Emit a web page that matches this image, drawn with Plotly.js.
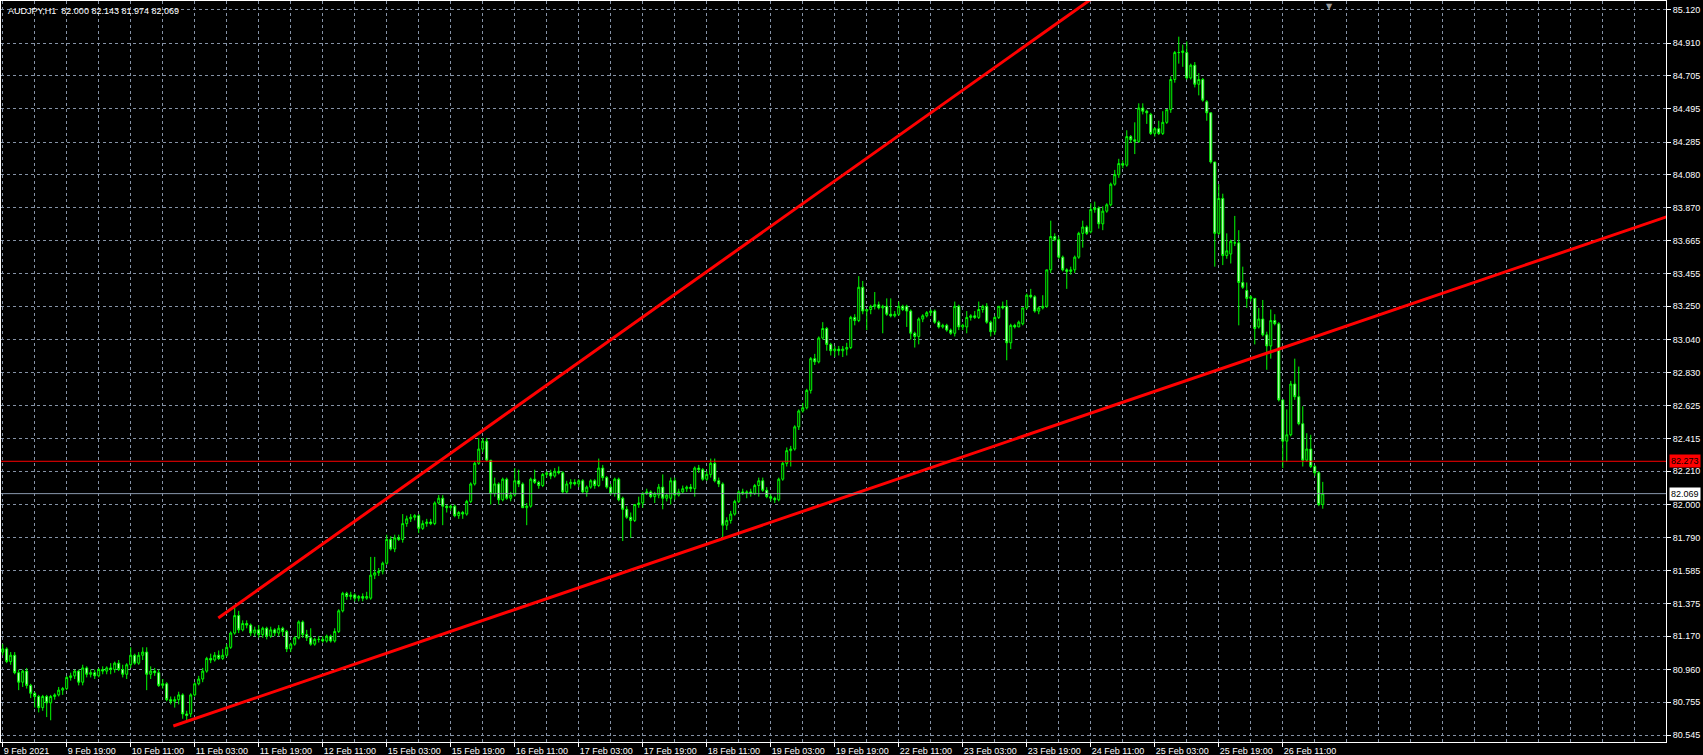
<!DOCTYPE html>
<html>
<head>
<meta charset="utf-8">
<script src="https://cdn.plot.ly/plotly-3.0.1.min.js"></script>
<style>
  html, body { margin: 0; padding: 0; background: #000; }
  #chart { width: 1703px; height: 755px; }
</style>
</head>
<body>
<div id="chart"></div>
<script>
// ---- data (AUDJPY, H1) ----
const symbolTitle = "AUDJPY,H1  82.000 82.143 81.974 82.069";

const barOpen = [
81.07,81.09,81.01,81.05,80.94,80.88,80.95,80.86,80.81,80.79,
80.72,80.79,80.75,80.79,80.80,80.83,80.84,80.91,80.92,80.95,
80.88,80.97,80.93,80.94,80.92,80.96,80.95,80.97,80.96,81.00,
80.96,80.93,80.99,81.05,81.00,81.05,81.07,80.93,80.95,80.94,
80.86,80.87,80.77,80.76,80.77,80.80,80.68,80.68,80.80,80.87,
80.90,80.95,81.03,81.02,81.05,81.03,81.05,81.10,81.19,81.30,
81.21,81.25,81.24,81.19,81.21,81.18,81.22,81.17,81.21,81.19,
81.22,81.20,81.09,81.12,81.16,81.26,81.18,81.16,81.12,81.15,
81.15,81.14,81.17,81.14,81.20,81.33,81.44,81.42,81.43,81.41,
81.42,81.41,81.41,81.555,81.57,81.58,81.63,81.78,81.72,81.79,
81.78,81.88,81.91,81.92,81.93,81.85,81.88,81.89,81.88,82.01,
82.04,81.99,81.98,81.99,81.93,81.95,81.94,82.02,82.13,82.26,
82.35,82.40,82.28,82.07,82.13,82.03,82.16,82.04,82.06,82.15,
82.13,81.98,81.99,82.16,82.14,82.12,82.19,82.20,82.18,82.21,
82.20,82.08,82.13,82.14,82.13,82.15,82.08,82.11,82.15,82.12,
82.23,82.17,82.11,82.07,82.16,82.04,81.97,81.92,81.90,82.00,
82.01,82.07,82.08,82.05,82.06,82.11,82.04,82.04,82.15,82.06,
82.08,82.10,82.11,82.10,82.23,82.22,82.16,82.19,82.26,82.15,
82.13,81.87,81.90,81.94,82.02,82.08,82.07,82.08,82.07,82.12,
82.15,82.09,82.05,82.04,82.03,82.16,82.26,82.34,82.35,82.49,
82.59,82.61,82.72,82.92,82.90,83.05,83.11,83.01,82.97,82.98,
82.97,82.98,82.99,83.18,83.16,83.37,83.22,83.23,83.25,83.26,
83.24,83.25,83.20,83.19,83.20,83.25,83.25,83.22,83.08,83.06,
83.17,83.19,83.21,83.22,83.15,83.12,83.13,83.10,83.08,83.25,
83.12,83.12,83.18,83.19,83.18,83.23,83.25,83.15,83.09,83.18,
83.25,83.25,83.02,83.13,83.12,83.14,83.24,83.32,83.31,83.22,
83.24,83.25,83.48,83.69,83.67,83.56,83.48,83.47,83.48,83.56,
83.71,83.75,83.72,83.86,83.87,83.77,83.85,83.89,84.02,84.08,
84.15,84.14,84.32,84.30,84.29,84.50,84.48,84.46,84.34,84.37,
84.34,84.41,84.49,84.68,84.85,84.85,84.85,84.69,84.77,84.65,
84.68,84.54,84.47,84.16,83.71,83.93,83.57,83.58,83.65,83.65,
83.40,83.35,83.30,83.30,83.12,83.17,83.07,83.00,83.16,83.14,
82.66,82.40,82.44,82.76,82.68,82.51,82.28,82.35,82.24,82.20,
82.000];

const barHigh = [
81.12,81.10,81.07,81.07,80.96,80.96,80.97,80.87,80.82,80.80,
80.80,80.80,80.80,80.81,80.85,80.85,80.92,80.94,80.96,80.96,
80.99,80.98,80.96,80.96,80.97,80.98,80.98,81.00,81.01,81.02,
80.99,81.00,81.10,81.06,81.07,81.10,81.10,80.98,80.97,80.96,
80.90,80.88,80.79,80.79,80.82,80.81,80.70,80.81,80.88,80.92,
80.97,81.04,81.06,81.07,81.08,81.09,81.12,81.20,81.36,81.33,
81.27,81.27,81.25,81.23,81.24,81.23,81.23,81.23,81.22,81.24,
81.23,81.21,81.13,81.17,81.27,81.27,81.21,81.22,81.16,81.17,
81.17,81.18,81.18,81.22,81.34,81.45,81.45,81.45,81.44,81.43,
81.44,81.45,81.67,81.67,81.60,81.64,81.81,81.80,81.81,81.81,
81.94,81.93,81.94,81.94,81.94,81.90,81.91,81.91,82.02,82.06,
82.06,82.00,82.00,82.00,81.96,81.96,82.03,82.14,82.27,82.42,
82.42,82.42,82.28,82.17,82.14,82.17,82.17,82.08,82.23,82.22,
82.14,82.01,82.17,82.22,82.15,82.20,82.21,82.22,82.23,82.24,
82.21,82.15,82.16,82.16,82.16,82.16,82.12,82.16,82.16,82.29,
82.25,82.18,82.13,82.17,82.17,82.05,81.99,81.95,82.00,82.05,
82.08,82.10,82.09,82.08,82.13,82.19,82.07,82.17,82.17,82.10,
82.12,82.12,82.13,82.24,82.25,82.23,82.21,82.29,82.29,82.17,
82.14,81.92,81.96,82.03,82.09,82.10,82.09,82.10,82.13,82.17,
82.17,82.11,82.07,82.05,82.17,82.27,82.36,82.37,82.50,82.60,
82.64,82.73,82.93,82.95,83.06,83.15,83.12,83.02,83.00,83.00,
83.00,83.02,83.19,83.20,83.44,83.41,83.23,83.26,83.34,83.28,
83.26,83.30,83.30,83.22,83.28,83.26,83.26,83.23,83.09,83.18,
83.20,83.22,83.23,83.23,83.16,83.14,83.14,83.11,83.28,83.26,
83.14,83.22,83.20,83.22,83.28,83.26,83.27,83.16,83.19,83.25,
83.28,83.29,83.14,83.14,83.16,83.24,83.33,83.36,83.32,83.25,
83.32,83.48,83.79,83.71,83.69,83.57,83.49,83.50,83.57,83.72,
83.79,83.76,83.90,83.91,83.88,83.88,83.90,84.03,84.11,84.18,
84.17,84.36,84.33,84.41,84.53,84.53,84.49,84.47,84.38,84.42,
84.48,84.49,84.70,84.86,84.95,84.90,84.92,84.78,84.79,84.72,
84.69,84.55,84.47,84.16,84.02,83.96,83.71,83.67,83.82,83.73,
83.50,83.40,83.32,83.30,83.24,83.29,83.09,83.23,83.20,83.15,
82.66,82.60,82.78,82.92,82.87,82.62,82.45,82.44,82.25,82.21,
82.143];

const barLow = [
81.05,81.00,80.99,80.93,80.83,80.85,80.84,80.78,80.72,80.69,
80.70,80.66,80.64,80.77,80.79,80.80,80.83,80.89,80.90,80.86,
80.86,80.91,80.91,80.90,80.91,80.93,80.93,80.93,80.94,80.95,
80.91,80.90,80.97,80.99,80.99,81.02,80.83,80.90,80.92,80.85,
80.84,80.76,80.74,80.72,80.74,80.65,80.63,80.66,80.79,80.86,
80.88,80.94,81.00,81.01,81.02,81.02,81.04,81.09,81.18,81.19,
81.20,81.22,81.17,81.17,81.16,81.16,81.15,81.16,81.17,81.17,
81.17,81.07,81.07,81.11,81.15,81.16,81.14,81.11,81.11,81.13,
81.13,81.13,81.13,81.13,81.19,81.32,81.40,81.40,81.39,81.39,
81.39,81.40,81.40,81.53,81.55,81.56,81.62,81.71,81.70,81.77,
81.76,81.86,81.89,81.90,81.82,81.84,81.86,81.87,81.87,82.00,
81.87,81.95,81.96,81.92,81.91,81.91,81.93,82.01,82.12,82.25,
82.33,82.27,82.00,82.05,82.00,82.02,82.03,82.02,82.05,82.11,
81.98,81.87,81.98,82.13,82.10,82.11,82.17,82.16,82.17,82.19,
82.07,82.07,82.10,82.12,82.11,82.07,82.05,82.10,82.10,82.11,
82.15,82.10,82.06,82.05,82.02,81.77,81.91,81.79,81.89,81.98,
81.98,82.06,82.04,82.01,82.04,81.97,82.02,82.00,82.03,82.05,
82.07,82.08,82.08,82.05,82.20,82.15,82.15,82.17,82.14,82.11,
81.79,81.84,81.88,81.93,82.01,82.06,82.04,82.05,82.06,82.05,
82.08,82.04,82.02,82.01,82.02,82.15,82.24,82.24,82.34,82.47,
82.58,82.60,82.70,82.88,82.89,83.04,82.97,82.94,82.93,82.94,
82.93,82.94,82.98,83.13,83.15,83.20,83.10,83.20,83.23,83.23,
83.08,83.19,83.18,83.18,83.19,83.22,83.12,83.04,82.99,83.01,
83.15,83.18,83.19,83.14,83.11,83.11,83.09,83.07,83.06,83.10,
83.10,83.08,83.16,83.17,83.17,83.21,83.14,83.06,83.07,83.17,
83.23,82.91,82.98,83.11,83.12,83.13,83.23,83.30,83.21,83.20,
83.23,83.24,83.46,83.66,83.55,83.47,83.36,83.45,83.46,83.55,
83.62,83.70,83.71,83.84,83.74,83.73,83.84,83.88,84.01,84.06,
84.12,84.13,84.28,84.21,84.28,84.46,84.40,84.33,84.32,84.33,
84.33,84.40,84.47,84.66,84.78,84.76,84.68,84.68,84.63,84.58,
84.54,84.42,84.15,83.50,83.70,83.51,83.55,83.52,83.63,83.13,
83.36,83.24,83.28,83.01,83.11,83.06,82.85,82.92,83.13,82.65,
82.23,82.27,82.43,82.66,82.50,82.24,82.27,82.23,82.18,81.99,
81.974];

const barClose = [
81.09,81.01,81.05,80.94,80.88,80.95,80.86,80.81,80.79,80.72,
80.79,80.75,80.79,80.80,80.83,80.84,80.91,80.92,80.95,80.88,
80.97,80.93,80.94,80.92,80.96,80.95,80.97,80.96,81.00,80.96,
80.93,80.99,81.05,81.00,81.05,81.07,80.93,80.95,80.94,80.86,
80.87,80.77,80.76,80.77,80.80,80.68,80.67,80.80,80.87,80.90,
80.95,81.03,81.02,81.05,81.03,81.05,81.10,81.19,81.30,81.21,
81.25,81.24,81.19,81.21,81.18,81.22,81.17,81.21,81.19,81.22,
81.20,81.09,81.12,81.16,81.26,81.18,81.16,81.12,81.15,81.15,
81.14,81.17,81.14,81.20,81.33,81.44,81.42,81.43,81.41,81.42,
81.41,81.42,81.555,81.57,81.58,81.63,81.78,81.72,81.79,81.78,
81.88,81.91,81.92,81.93,81.85,81.88,81.89,81.88,82.01,82.04,
81.99,81.98,81.99,81.93,81.95,81.94,82.02,82.13,82.26,82.35,
82.40,82.28,82.07,82.13,82.03,82.16,82.04,82.06,82.15,82.13,
81.98,81.99,82.16,82.14,82.12,82.19,82.20,82.18,82.21,82.20,
82.08,82.13,82.14,82.13,82.15,82.08,82.11,82.15,82.12,82.23,
82.17,82.11,82.07,82.16,82.03,81.97,81.92,81.90,82.00,82.01,
82.07,82.08,82.05,82.07,82.11,82.04,82.06,82.15,82.06,82.08,
82.10,82.11,82.10,82.23,82.22,82.16,82.19,82.26,82.15,82.13,
81.87,81.90,81.94,82.02,82.08,82.07,82.08,82.07,82.12,82.15,
82.09,82.05,82.04,82.03,82.16,82.26,82.34,82.35,82.49,82.59,
82.61,82.72,82.92,82.90,83.05,83.11,83.01,82.97,82.98,82.97,
82.98,82.99,83.18,83.16,83.37,83.22,83.23,83.25,83.26,83.24,
83.25,83.20,83.19,83.20,83.25,83.23,83.22,83.08,83.06,83.17,
83.19,83.21,83.22,83.15,83.12,83.13,83.10,83.08,83.25,83.12,
83.13,83.18,83.19,83.18,83.23,83.25,83.15,83.09,83.18,83.25,
83.24,83.02,83.13,83.12,83.15,83.24,83.32,83.31,83.22,83.24,
83.25,83.48,83.69,83.67,83.56,83.48,83.47,83.48,83.56,83.71,
83.75,83.71,83.86,83.87,83.77,83.85,83.89,84.02,84.08,84.15,
84.14,84.32,84.30,84.29,84.50,84.48,84.47,84.34,84.37,84.34,
84.41,84.49,84.68,84.85,84.85,84.86,84.69,84.77,84.65,84.68,
84.55,84.47,84.16,83.71,83.93,83.57,83.60,83.66,83.65,83.40,
83.37,83.30,83.31,83.11,83.17,83.07,83.00,83.16,83.14,82.66,
82.40,82.44,82.76,82.68,82.51,82.28,82.35,82.24,82.20,82.00,
82.069];

// time-axis labels, one every 16 hourly bars
const timeLabels = ["9 Feb 2021","9 Feb 19:00","10 Feb 11:00","11 Feb 03:00","11 Feb 19:00",
  "12 Feb 11:00","15 Feb 03:00","15 Feb 19:00","16 Feb 11:00","17 Feb 03:00","17 Feb 19:00",
  "18 Feb 11:00","19 Feb 03:00","19 Feb 19:00","22 Feb 11:00","23 Feb 03:00","23 Feb 19:00",
  "24 Feb 11:00","25 Feb 03:00","25 Feb 19:00","26 Feb 11:00"];

// price-axis labels
const priceTicks = [80.545,80.755,80.960,81.170,81.375,81.585,81.790,82.000,82.210,82.415,
  82.625,82.830,83.040,83.250,83.455,83.665,83.870,84.080,84.285,84.495,84.705,84.910,85.120];

// trend lines (bar index, price) anchor points
const upperTrendBars = [53.9, 280];
const upperTrendPrices = [81.285, 85.328];
const lowerTrendBars = [42.65, 420];
const lowerTrendPrices = [80.604, 83.849];

// horizontal levels
const redLevel = 82.273;
const bidLevel = 82.069;

// chart-shift marker (bar position)
const shiftMarkerBar = 331.8;

// ---- chart ----
const barIndex = barOpen.map((_, i) => i);
const labelBars = timeLabels.map((_, k) => k * 16);

const gridCol = '#8592a6';
const fontFam = '"Liberation Sans", Arial, sans-serif';

const traces = [
  {
    type: 'candlestick',
    x: barIndex, open: barOpen, high: barHigh, low: barLow, close: barClose,
    increasing: { line: { color: '#00ff00', width: 1 }, fillcolor: '#000000' },
    decreasing: { line: { color: '#00ff00', width: 1 }, fillcolor: '#f2fff2' },
    whiskerwidth: 0,
    hoverinfo: 'skip',
    showlegend: false
  },
  {
    type: 'scatter', mode: 'lines', x: upperTrendBars, y: upperTrendPrices,
    line: { color: '#ff0000', width: 3 }, hoverinfo: 'skip', showlegend: false
  },
  {
    type: 'scatter', mode: 'lines', x: lowerTrendBars, y: lowerTrendPrices,
    line: { color: '#ff0000', width: 3 }, hoverinfo: 'skip', showlegend: false
  }
];

const layout = {
  width: 1703, height: 755,
  paper_bgcolor: '#000000', plot_bgcolor: '#000000',
  margin: { l: 1, r: 37, t: 1, b: 13 },
  showlegend: false,
  boxgap: 0.3,
  xaxis: {
    type: 'linear',
    range: [-0.425, 415.8],
    autorange: false,
    rangeslider: { visible: false },
    tickmode: 'array', tickvals: labelBars, ticktext: timeLabels,
    ticks: 'outside', ticklen: 4, tickcolor: '#ffffff', tickwidth: 1,
    ticklabelposition: 'outside right',
    tickfont: { family: fontFam, size: 9, color: '#ffffff' },
    showgrid: true, gridcolor: gridCol, gridwidth: 1, griddash: '3px,3px',
    minor: { tick0: 0, dtick: 8, showgrid: true, gridcolor: gridCol, gridwidth: 1, griddash: '3px,3px', ticks: '' },
    showline: true, linecolor: '#ffffff', linewidth: 1, mirror: true,
    zeroline: false, automargin: false, fixedrange: true
  },
  yaxis: {
    side: 'right',
    range: [80.503, 85.175],
    autorange: false,
    tickmode: 'array', tickvals: priceTicks, ticktext: priceTicks.map(v => v.toFixed(3)),
    ticks: 'outside', ticklen: 4, tickcolor: '#ffffff', tickwidth: 1,
    tickfont: { family: fontFam, size: 9, color: '#ffffff' },
    showgrid: true, gridcolor: gridCol, gridwidth: 1, griddash: '3px,3px',
    showline: true, linecolor: '#ffffff', linewidth: 1, mirror: true,
    zeroline: false, automargin: false, fixedrange: true
  },
  shapes: [
    { type: 'line', xref: 'paper', x0: 0, x1: 1, yref: 'y', y0: bidLevel, y1: bidLevel,
      line: { color: '#8a98ad', width: 1 }, layer: 'above' },
    { type: 'line', xref: 'paper', x0: 0, x1: 1, yref: 'y', y0: redLevel, y1: redLevel,
      line: { color: '#ff0000', width: 1 }, layer: 'above' }
  ],
  annotations: [
    { text: symbolTitle, xref: 'paper', yref: 'paper', x: 0, y: 1, xanchor: 'left', yanchor: 'top',
      xshift: 5, yshift: -3, showarrow: false,
      font: { family: fontFam, size: 9, color: '#ffffff' } },
    { text: redLevel.toFixed(3), xref: 'paper', yref: 'y', x: 1, y: redLevel, xanchor: 'left', yanchor: 'middle',
      xshift: 3, showarrow: false, bgcolor: '#ff0000', borderpad: 1,
      font: { family: fontFam, size: 9, color: '#000000' } },
    { text: bidLevel.toFixed(3), xref: 'paper', yref: 'y', x: 1, y: bidLevel, xanchor: 'left', yanchor: 'middle',
      xshift: 3, showarrow: false, bgcolor: '#ffffff', borderpad: 1,
      font: { family: fontFam, size: 9, color: '#000000' } },
    { text: '▼', xref: 'x', yref: 'paper', x: shiftMarkerBar, y: 1, xanchor: 'center', yanchor: 'top',
      yshift: 1, showarrow: false,
      font: { family: '"DejaVu Sans", sans-serif', size: 8, color: '#9a9a9a' } }
  ]
};

Plotly.newPlot('chart', traces, layout, { staticPlot: true, displayModeBar: false });
</script>
</body>
</html>
